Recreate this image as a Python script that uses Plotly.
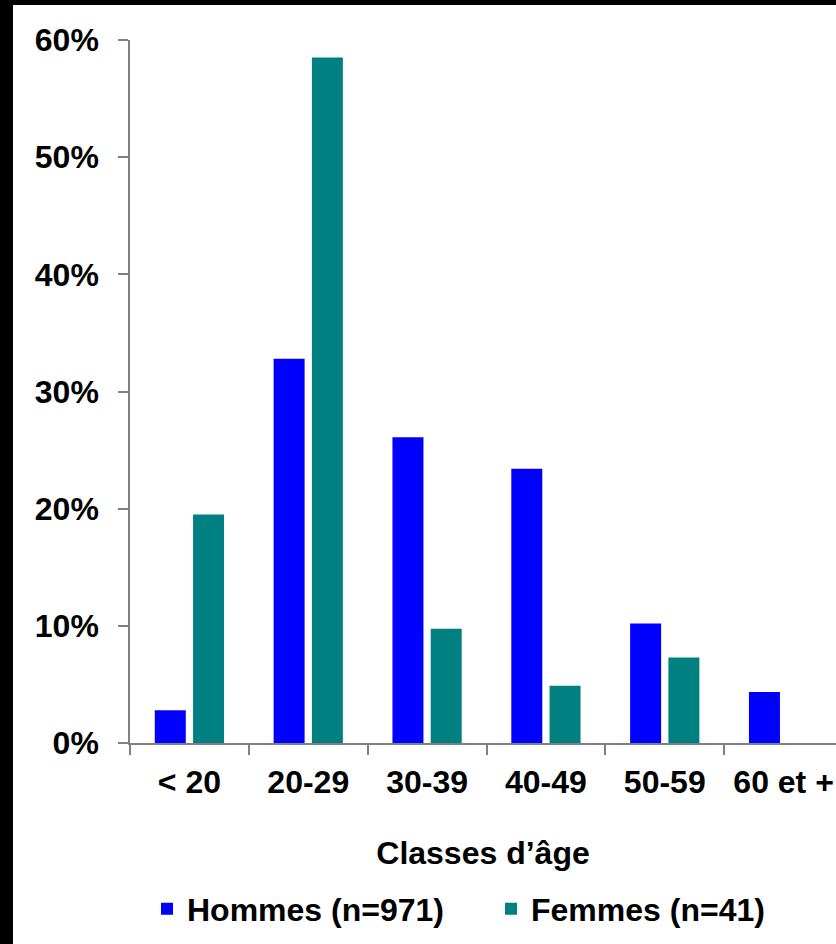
import plotly.graph_objects as go

categories = ["< 20", "20-29", "30-39", "40-49", "50-59", "60 et +"]
hommes = [2.8, 32.8, 26.1, 23.4, 10.2, 4.35]
femmes = [19.5, 58.5, 9.76, 4.88, 7.3, 0]
y_ticks = [0, 10, 20, 30, 40, 50, 60]
y_labels = ["0%", "10%", "20%", "30%", "40%", "50%", "60%"]

W, H = 836, 944
ML, MR, MT, MB = 130, 0, 40, 201
FONT = "Liberation Sans, Arial, sans-serif"
FS = 32

fig = go.Figure()
fig.add_trace(go.Bar(name="Hommes (n=971)", x=categories, y=hommes,
                     marker=dict(color="#0000FF", line=dict(width=0))))
fig.add_trace(go.Bar(name="Femmes (n=41)", x=categories, y=femmes,
                     marker=dict(color="#008080", line=dict(width=0))))

pw = W - ML - MR
ph = H - MT - MB

def px_x(p):
    return (p - ML) / pw

def px_y(p):
    return (H - MB - p) / ph

shapes = [
    dict(type="rect", xref="paper", yref="paper", x0=px_x(-5), x1=px_x(13),
         y0=px_y(H + 5), y1=px_y(-5), fillcolor="black", line=dict(width=0), layer="above"),
    dict(type="rect", xref="paper", yref="paper", x0=px_x(-5), x1=px_x(W + 5),
         y0=px_y(5), y1=px_y(-5), fillcolor="black", line=dict(width=0), layer="above"),
]

fnt = dict(family=FONT, size=FS, color="black", weight="bold")

fig.update_layout(
    width=W, height=H,
    margin=dict(l=ML, r=MR, t=MT, b=MB, pad=0),
    paper_bgcolor="white", plot_bgcolor="white",
    barmode="group", bargap=0.356, bargroupgap=0.19,
    font=fnt,
    showlegend=True,
    legend=dict(orientation="h", x=px_x(147), xanchor="left", y=px_y(909), yanchor="middle",
                font=fnt, entrywidth=299, entrywidthmode="pixels", traceorder="normal",
                bgcolor="rgba(0,0,0,0)"),
    shapes=shapes,
)
fig.update_xaxes(
    range=[-0.5, 5.5 - 7 / 118.8],
    showline=True, linecolor="#808080", linewidth=1.5,
    ticks="outside", tickson="boundaries", ticklen=10, tickcolor="#808080", tickwidth=1.5,
    showgrid=False, zeroline=False,
    tickfont=fnt, ticklabelstandoff=10,
    title=dict(text="Classes d’âge", standoff=42, font=fnt),
)
fig.update_yaxes(
    range=[0, 60],
    tickmode="array", tickvals=y_ticks, ticktext=y_labels,
    showline=True, linecolor="#808080", linewidth=1.5,
    ticks="outside", ticklen=10, tickcolor="#808080", tickwidth=1.5,
    showgrid=False, zeroline=False,
    tickfont=fnt, ticklabelstandoff=13,
)

fig.write_html("out.html")
